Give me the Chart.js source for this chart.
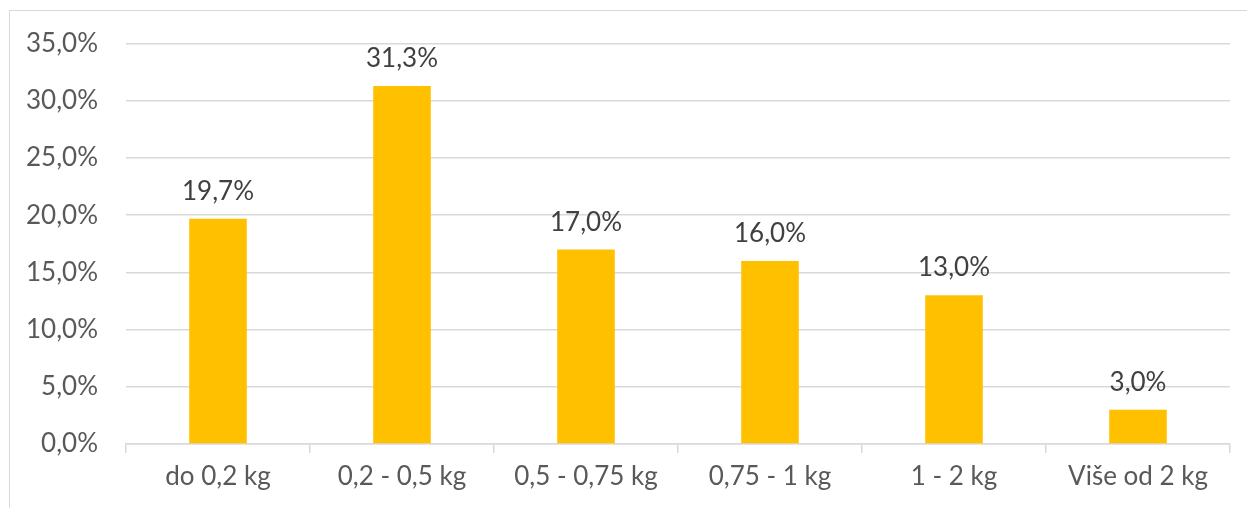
<!DOCTYPE html>
<html>
<head>
<meta charset="utf-8">
<script src="https://cdn.jsdelivr.net/npm/chart.js@4"></script>
<style>
html,body{margin:0;padding:0;background:#fff;overflow:hidden;width:1247px;height:508px;}
#frame{position:absolute;left:9px;top:10px;width:1260px;height:520px;border:1px solid #d9d9d9;box-sizing:border-box;}
#c{position:absolute;left:0;top:0;}
</style>
</head>
<body>
<div id="frame"></div>
<canvas id="c" width="1247" height="508"></canvas>
<script>
const categories = ["do 0,2 kg", "0,2 - 0,5 kg", "0,5 - 0,75 kg", "0,75 - 1 kg", "1 - 2 kg", "Više od 2 kg"];
const shares = [19.7, 31.3, 17.0, 16.0, 13.0, 3.0];
const yTicks = [0, 5, 10, 15, 20, 25, 30, 35];

const FONT = "Lato";
const fmt = v => v.toFixed(1).replace('.', ',') + '%';

const labelPlugin = {
  id: 'barLabels',
  afterDatasetsDraw(chart) {
    const ctx = chart.ctx;
    const meta = chart.getDatasetMeta(0);
    ctx.save();
    ctx.font = `26px ${FONT}`;
    ctx.fillStyle = '#404040';
    ctx.textAlign = 'center';
    ctx.textBaseline = 'alphabetic';
    meta.data.forEach((bar, i) => {
      ctx.fillText(fmt(shares[i]), bar.x, bar.y - 19);
    });
    ctx.restore();
  }
};

new Chart(document.getElementById('c'), {
  type: 'bar',
  data: {
    labels: categories,
    datasets: [{
      data: shares,
      backgroundColor: '#FFC000',
      borderWidth: 0,
      categoryPercentage: 1.0,
      barPercentage: 0.313
    }]
  },
  options: {
    responsive: false,
    devicePixelRatio: 1,
    animation: false,
    layout: { padding: { left: 0, top: 40, right: 17, bottom: 0 } },
    plugins: { legend: { display: false }, tooltip: { enabled: false } },
    scales: {
      x: {
        offset: true,
        grid: { display: true, offset: true, drawOnChartArea: false, drawTicks: true, tickLength: 9, color: '#d9d9d9', lineWidth: 1.5 },
        border: { display: true, color: '#d9d9d9', width: 1.5 },
        ticks: { color: '#595959', font: { family: FONT, size: 26 }, padding: 8, maxRotation: 0, autoSkip: false },
        afterFit(scale) { scale.height = 64; }
      },
      y: {
        min: 0, max: 35,
        afterBuildTicks(scale) { scale.ticks = yTicks.map(v => ({ value: v })); },
        grid: { color: '#d9d9d9', lineWidth: 1.5, drawTicks: false },
        border: { display: false },
        ticks: { color: '#595959', font: { family: FONT, size: 26 }, padding: 28, callback: v => fmt(v) },
        afterFit(scale) { scale.width = 126; }
      }
    }
  },
  plugins: [labelPlugin]
});
</script>
</body>
</html>
